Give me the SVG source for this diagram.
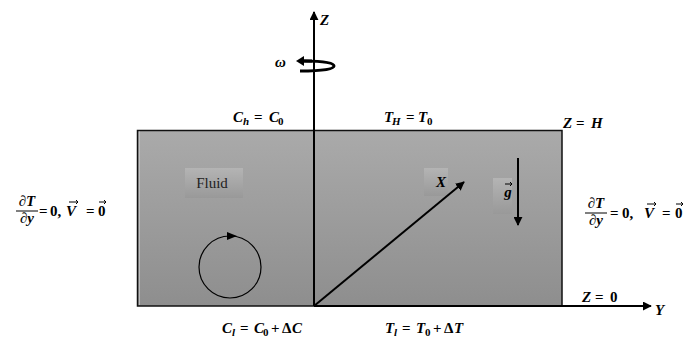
<svg xmlns="http://www.w3.org/2000/svg" width="684" height="341" viewBox="0 0 684 341">
<style>
.m{font-family:"Liberation Serif","DejaVu Serif",serif;font-size:15px;font-weight:bold;fill:#000}
.i{font-style:italic}
.s{font-size:11px}
.ln{stroke:#000;fill:none}
.va{stroke:#000;stroke-width:1;fill:none}
</style>
<defs>
<linearGradient id="bg" x1="0" y1="0" x2="0" y2="1">
<stop offset="0" stop-color="#aaaaaa"/>
<stop offset="1" stop-color="#8e8e8e"/>
</linearGradient>
<linearGradient id="lb" x1="0" y1="0" x2="0" y2="1">
<stop offset="0" stop-color="#b4b4b4"/>
<stop offset="1" stop-color="#999999"/>
</linearGradient>
<marker id="ah" viewBox="0 0 10 10" refX="9" refY="5" markerWidth="9" markerHeight="9" markerUnits="userSpaceOnUse" orient="auto">
<path d="M0,0 L10,5 L0,10 z" fill="#000"/>
</marker>
</defs>
<g id="fluid-domain">
<rect x="137.5" y="130.5" width="424.5" height="175.5" fill="url(#bg)" stroke="#111" stroke-width="1.5"/>
<line x1="139.5" y1="131.5" x2="139.5" y2="305" stroke="#c8c8c8" stroke-width="0.8"/>
</g>
<g id="fluid-label">
<rect x="185" y="168" width="58" height="30" fill="url(#lb)"/>
<text x="212" y="188" text-anchor="middle" font-family="Liberation Serif, serif" font-size="15" fill="#222">Fluid</text>
</g>
<g id="x-label">
<rect x="424" y="168" width="24" height="28" fill="url(#lb)"/>
<text x="441" y="187" text-anchor="middle" class="m i" font-size="13">X</text>
</g>
<g id="g-label">
<rect x="493" y="178" width="19" height="36" fill="url(#lb)"/>
<text x="508" y="197" text-anchor="middle" class="m i" font-size="14">g</text>
<path d="M505,184 L512,184 M510,182 L512,184 L510,186" class="va"/>
</g>
<g id="circulation">
<circle cx="230" cy="267" r="31" class="ln" stroke-width="1.2"/>
<path d="M227,232 L237,236 L227,240 z" fill="#000"/>
</g>
<g id="connectors">
<line x1="314" y1="306" x2="314" y2="12" class="ln" stroke-width="2" marker-end="url(#ah)"/>
<line x1="314" y1="306" x2="651" y2="306" class="ln" stroke-width="2" marker-end="url(#ah)"/>
<line x1="314" y1="306" x2="464" y2="182" class="ln" stroke-width="2" marker-end="url(#ah)"/>
<line x1="518" y1="158" x2="518" y2="225" class="ln" stroke-width="2" marker-end="url(#ah)"/>
</g>
<g id="rotation">
<path d="M304,61 Q334,61 334,66 Q334,71 300,71" fill="none" stroke="#000" stroke-width="3"/>
<path d="M296,61 L304,56 L304,66 z" fill="#000"/>
<line x1="300" y1="61" x2="312" y2="61" stroke="#000" stroke-width="3"/>
<text x="275" y="67" class="m i" font-size="12">ω</text>
</g>
<g id="labels">
<text x="320" y="25" class="m i">Z</text>
<text y="122" class="m"><tspan x="233" class="i">C</tspan><tspan x="243" dy="3" class="i s">h</tspan><tspan x="254" dy="-3">=</tspan><tspan x="269" class="i">C</tspan><tspan x="278" dy="3" class="s">0</tspan></text>
<text y="122" class="m"><tspan x="384" class="i">T</tspan><tspan x="392" dy="3" class="i s">H</tspan><tspan x="406" dy="-3">=</tspan><tspan x="418" class="i">T</tspan><tspan x="427" dy="3" class="s">0</tspan></text>
<text y="128" class="m"><tspan x="563" class="i">Z</tspan><tspan x="576">=</tspan><tspan x="591" class="i">H</tspan></text>
<text y="302" class="m"><tspan x="582" class="i">Z</tspan><tspan x="595">=</tspan><tspan x="610">0</tspan></text>
<text x="655" y="315" class="m i">Y</text>
<text y="333" class="m"><tspan x="222" class="i">C</tspan><tspan x="232" dy="3" class="i s">l</tspan><tspan x="240" dy="-3">=</tspan><tspan x="254" class="i">C</tspan><tspan x="263" dy="3" class="s">0</tspan><tspan x="271" dy="-3">+</tspan><tspan x="282">Δ</tspan><tspan x="292" class="i">C</tspan></text>
<text y="333" class="m"><tspan x="385" class="i">T</tspan><tspan x="394" dy="3" class="i s">l</tspan><tspan x="402" dy="-3">=</tspan><tspan x="416" class="i">T</tspan><tspan x="425" dy="3" class="s">0</tspan><tspan x="433" dy="-3">+</tspan><tspan x="444">Δ</tspan><tspan x="454" class="i">T</tspan></text>
</g>
<g id="left-bc">
<text x="27" y="206" text-anchor="middle" class="m i">∂T</text>
<line x1="16" y1="211" x2="38" y2="211" stroke="#000" stroke-width="1"/>
<text x="27" y="223" text-anchor="middle" class="m i">∂y</text>
<text y="216" class="m"><tspan x="39">=</tspan><tspan x="50">0,</tspan><tspan x="66" class="i">V</tspan><tspan x="86">=</tspan><tspan x="98">0</tspan></text>
<path d="M69,202 L78,202 M76,200 L78,202 L76,204" class="va"/>
<path d="M99,202 L106,202 M104,200 L106,202 L104,204" class="va"/>
</g>
<g id="right-bc">
<text x="596" y="208" text-anchor="middle" class="m i">∂T</text>
<line x1="585" y1="213" x2="607" y2="213" stroke="#000" stroke-width="1"/>
<text x="596" y="225" text-anchor="middle" class="m i">∂y</text>
<text y="218" class="m"><tspan x="610">=</tspan><tspan x="622">0,</tspan><tspan x="644" class="i">V</tspan><tspan x="662">=</tspan><tspan x="675">0</tspan></text>
<path d="M647,204 L656,204 M654,202 L656,204 L654,206" class="va"/>
<path d="M676,204 L683,204 M681,202 L683,204 L681,206" class="va"/>
</g>
</svg>
